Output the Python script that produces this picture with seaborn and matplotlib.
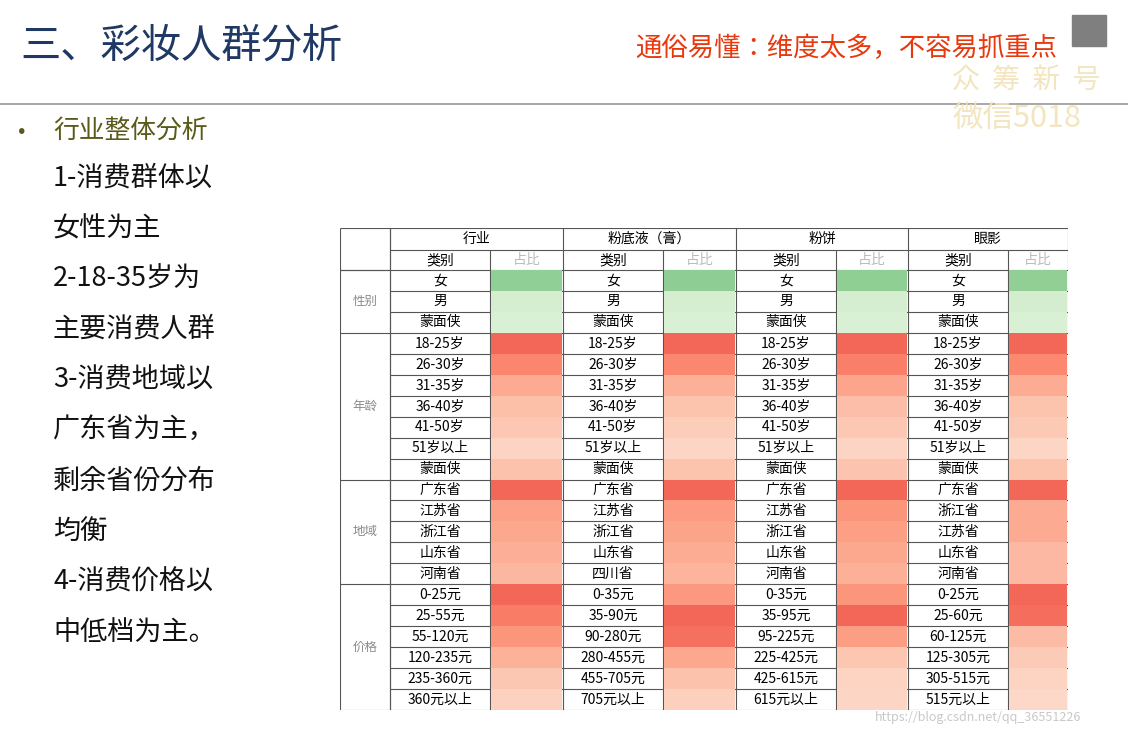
import numpy as np
import pandas as pd
import matplotlib.pyplot as plt
import seaborn as sns

plt.rcParams["font.family"] = ["Noto Sans CJK JP", "Noto Sans CJK SC", "DejaVu Sans"]

W, H = 1128, 735

groups = ["行业", "粉底液（膏）", "粉饼", "眼影"]
sections = ["性别", "年龄", "地域", "价格"]
section_sizes = [3, 7, 5, 6]
gender_rows = ["女", "男", "蒙面侠"]
age_rows = ["18-25岁", "26-30岁", "31-35岁", "36-40岁", "41-50岁", "51岁以上", "蒙面侠"]
region_rows = {
    "行业": ["广东省", "江苏省", "浙江省", "山东省", "河南省"],
    "粉底液（膏）": ["广东省", "江苏省", "浙江省", "山东省", "四川省"],
    "粉饼": ["广东省", "江苏省", "浙江省", "山东省", "河南省"],
    "眼影": ["广东省", "浙江省", "江苏省", "山东省", "河南省"],
}
price_rows = {
    "行业": ["0-25元", "25-55元", "55-120元", "120-235元", "235-360元", "360元以上"],
    "粉底液（膏）": ["0-35元", "35-90元", "90-280元", "280-455元", "455-705元", "705元以上"],
    "粉饼": ["0-35元", "35-95元", "95-225元", "225-425元", "425-615元", "615元以上"],
    "眼影": ["0-25元", "25-60元", "60-125元", "125-305元", "305-515元", "515元以上"],
}
# share (%) per row, estimated from the blurred cells
shares = {
    "行业": [86, 11, 3, 34, 26, 15, 9, 6, 2, 8, 15, 8, 7, 6, 5, 32, 27, 20, 12, 6, 3],
    "粉底液（膏）": [88, 9, 3, 36, 27, 14, 8, 5, 2, 8, 14, 8, 7, 6, 5, 18, 30, 28, 14, 7, 3],
    "粉饼": [87, 10, 3, 33, 27, 16, 9, 6, 2, 7, 13, 8, 7, 6, 5, 25, 40, 22, 8, 3, 2],
    "眼影": [85, 12, 3, 35, 26, 15, 8, 6, 2, 8, 16, 7, 7, 5, 5, 40, 38, 12, 6, 3, 1],
}

# column edges in pixels: (category left, value left, value right)
group_x = [(390, 490, 563), (563, 663, 736), (736, 836, 908), (908, 1008, 1068)]
top, head1, head2, bottom = 228, 250, 270, 710
n_rows = sum(section_sizes)
row_h = (bottom - head2) / n_rows

fig = plt.figure(figsize=(W / 100, H / 100), dpi=100)

def fx(x):
    return x / W

def fy(y):
    return 1 - y / H

# slide header
fig.text(fx(20), fy(46), "三、彩妆人群分析", fontsize=29, color="#1f3864", va="center")
fig.text(fx(635), fy(48), "通俗易懂：维度太多，不容易抓重点", fontsize=19, color="#e8380d", va="center")
fig.text(fx(952), fy(80), "众  筹  新  号", fontsize=20, color="#f1e3b8", va="center", alpha=0.9)
fig.text(fx(952), fy(118), "微信5018", fontsize=22, color="#f1e3b8", va="center", alpha=0.9)
fig.add_artist(plt.Line2D([0, 1], [fy(104), fy(104)], color="#9a9a9a", lw=1.2))
fig.add_artist(plt.Rectangle((fx(1072), fy(46)), 0.03, 0.042, color="#7f7f7f"))

# left bullet text
fig.text(fx(18), fy(131), "•", fontsize=16, color="#5a5a1a", va="center")
fig.text(fx(53), fy(131), "行业整体分析", fontsize=18.5, color="#5a5a1a", va="center")
lines = ["1-消费群体以", "女性为主", "2-18-35岁为", "主要消费人群", "3-消费地域以",
         "广东省为主，", "剩余省份分布", "均衡", "4-消费价格以", "中低档为主。"]
for i, t in enumerate(lines):
    fig.text(fx(53), fy(178 + i * 50.5), t, fontsize=19.5, color="#111111", va="center")

# table frame and text
ax = fig.add_axes([fx(340), fy(bottom), fx(1068 - 340), (bottom - top) / H])
ax.set_xlim(340, 1068)
ax.set_ylim(bottom, top)
ax.axis("off")
lc = "#555555"
ax.hlines([top, bottom], 340, 1068, color=lc, lw=0.8)
ax.hlines(head1, 390, 1068, color=lc, lw=0.8)
ax.hlines(head2, 340, 1068, color=lc, lw=0.8)
for i in range(1, n_rows):
    ax.hlines(head2 + i * row_h, 390, 1068, color=lc, lw=0.8)
start = 0
for s, n in zip(sections, section_sizes):
    y0 = head2 + start * row_h
    ax.hlines(y0, 340, 390, color=lc, lw=0.8)
    ax.text(365, y0 + n * row_h / 2, s, ha="center", va="center", fontsize=9, color="#8a8a8a")
    start += n
ax.vlines([340, 390, 1068], top, bottom, color=lc, lw=0.8)
for g, (x0, x1, x2) in zip(groups, group_x):
    ax.vlines(x0, top, bottom, color=lc, lw=0.8)
    ax.vlines(x1, head1, bottom, color=lc, lw=0.8)
    ax.text((x0 + x2) / 2, (top + head1) / 2, g, ha="center", va="center", fontsize=10)
    ax.text((x0 + x1) / 2, (head1 + head2) / 2, "类别", ha="center", va="center", fontsize=10)
    ax.text((x1 + x2) / 2, (head1 + head2) / 2, "占比", ha="center", va="center", fontsize=10, color="#bbbbbb")
    cats = gender_rows + age_rows + region_rows[g] + price_rows[g]
    for i, c in enumerate(cats):
        ax.text((x0 + x1) / 2, head2 + (i + 0.5) * row_h, c, ha="center", va="center", fontsize=10)

# value cells as heatmaps
for g, (x0, x1, x2) in zip(groups, group_x):
    hax = fig.add_axes([fx(x1 + 1), fy(bottom), (x2 - x1 - 2) / W, (bottom - head2) / H])
    df = pd.DataFrame({"占比": shares[g]})
    gmask = np.ones((n_rows, 1), dtype=bool)
    gmask[:3] = False
    sns.heatmap(df, mask=gmask, cmap="Greens", vmin=-60, vmax=220, cbar=False, ax=hax,
                alpha=0.75)
    start = 3
    for n in section_sizes[1:]:
        m = np.ones((n_rows, 1), dtype=bool)
        m[start:start + n] = False
        vals = df["占比"].values[start:start + n]
        sns.heatmap(df, mask=m, cmap="Reds", vmin=-vals.max() * 0.4, vmax=vals.max() * 1.9,
                    cbar=False, ax=hax, alpha=0.8)
        start += n
    hax.set_xticks([])
    hax.set_yticks([])
    hax.set_xlabel("")
    hax.set_ylabel("")

fig.text(fx(875), fy(717), "https://blog.csdn.net/qq_36551226", fontsize=9, color="#c8c8c8", va="center")

fig.savefig("out.png", dpi=100)
